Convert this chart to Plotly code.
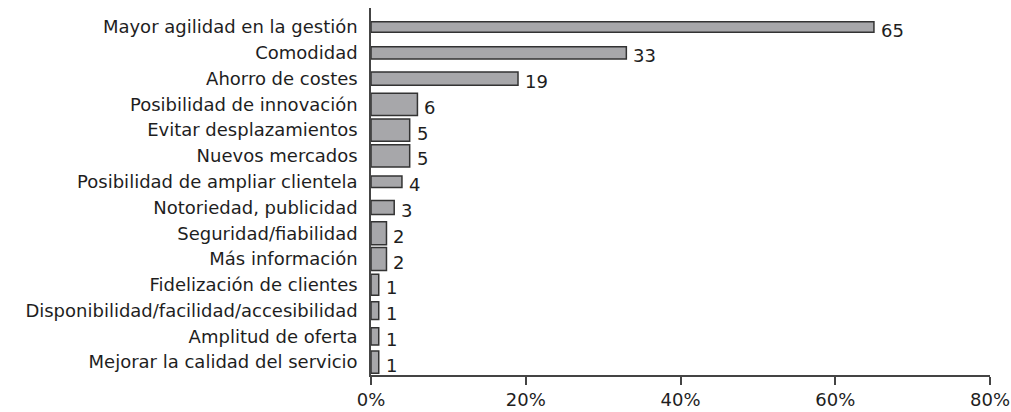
import plotly.graph_objects as go

# Motivos citados (porcentaje de respuestas)
categorias = [
    "Mayor agilidad en la gestión",
    "Comodidad",
    "Ahorro de costes",
    "Posibilidad de innovación",
    "Evitar desplazamientos",
    "Nuevos mercados",
    "Posibilidad de ampliar clientela",
    "Notoriedad, publicidad",
    "Seguridad/fiabilidad",
    "Más información",
    "Fidelización de clientes",
    "Disponibilidad/facilidad/accesibilidad",
    "Amplitud de oferta",
    "Mejorar la calidad del servicio",
]
valores = [65, 33, 19, 6, 5, 5, 4, 3, 2, 2, 1, 1, 1, 1]
ticks_x = [0, 20, 40, 60, 80]
etiquetas_x = [f"{t}%" for t in ticks_x]

# Grosor de cada barra (fracción del espacio por categoría)
grosor = [0.41, 0.48, 0.52, 0.86, 0.86, 0.86, 0.44, 0.54, 0.9, 0.9, 0.82, 0.69, 0.67, 0.86]

FUENTE = "DejaVu Sans"
TEXTO = "#1e1e1e"

fig = go.Figure(
    go.Bar(
        x=valores,
        y=categorias,
        orientation="h",
        width=grosor,
        marker=dict(color="#a7a7aa", line=dict(color="#333333", width=1.5)),
        hoverinfo="x+y",
    )
)

# Etiquetas de valor al final de cada barra
for cat, v in zip(categorias, valores):
    fig.add_annotation(
        x=v, y=cat, text=str(v), showarrow=False,
        xanchor="left", yanchor="middle", xshift=5, yshift=-3,
        font=dict(family=FUENTE, size=18, color=TEXTO),
    )

fig.update_layout(
    width=1011,
    height=412,
    margin=dict(l=371, r=21, t=8, b=37, autoexpand=False),
    paper_bgcolor="white",
    plot_bgcolor="white",
    showlegend=False,
    font=dict(family=FUENTE, size=18, color=TEXTO),
    xaxis=dict(
        range=[0, 80],
        tickmode="array",
        tickvals=ticks_x,
        ticktext=etiquetas_x,
        showgrid=False,
        zeroline=False,
        showline=True,
        linecolor="#444444",
        linewidth=1.5,
        ticks="outside",
        ticklen=8,
        tickwidth=1.5,
        tickcolor="#444444",
        tickfont=dict(family=FUENTE, size=18, color=TEXTO),
        automargin=False,
    ),
    yaxis=dict(
        type="category",
        range=[13.5, -0.74],
        showgrid=False,
        zeroline=False,
        showline=True,
        linecolor="#444444",
        linewidth=1.5,
        ticks="outside",
        ticklen=8,
        tickcolor="rgba(0,0,0,0)",
        tickfont=dict(family=FUENTE, size=18, color=TEXTO),
        automargin=False,
    ),
)

fig.write_html("out.html")
